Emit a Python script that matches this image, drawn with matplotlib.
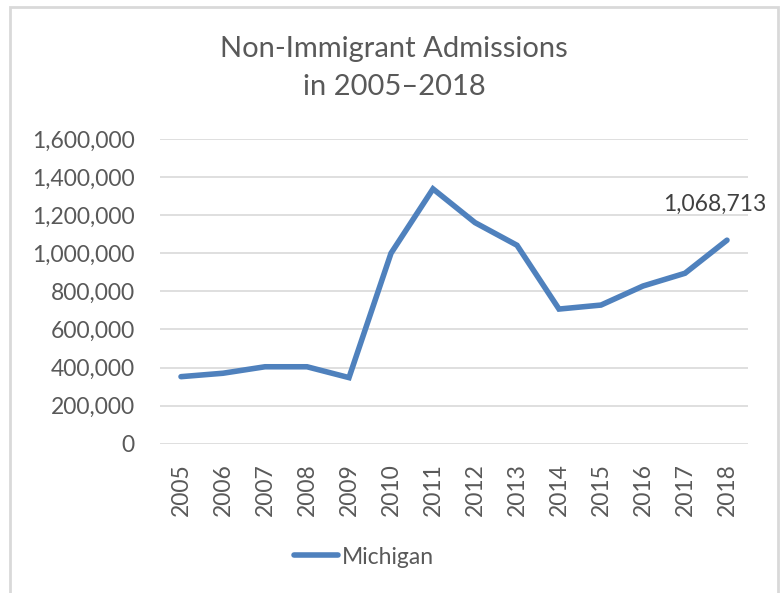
import matplotlib
matplotlib.use("Agg")
import matplotlib.pyplot as plt
from matplotlib.patches import Rectangle
from matplotlib.ticker import FuncFormatter

years = ["2005", "2006", "2007", "2008", "2009", "2010", "2011",
         "2012", "2013", "2014", "2015", "2016", "2017", "2018"]
michigan = [352000, 370000, 404000, 404000, 347000, 1000000, 1338000,
            1161000, 1042000, 707000, 728000, 828000, 895000, 1068713]
series_name = "Michigan"
title = "Non-Immigrant Admissions\nin 2005\u20132018"
label_text = "1,068,713"

plt.rcParams['font.family'] = ['Lato', 'DejaVu Sans']
txt = "#595959"
W, H = 780, 593
fig = plt.figure(figsize=(W/100, H/100), dpi=100)

# chart border
fig.patches.append(Rectangle((10/W, -0.05), (778-10)/W, 1.05 - 7/H,
                             transform=fig.transFigure, fill=False,
                             edgecolor="#d9d9d9", linewidth=2))

ax = fig.add_axes([160/W, 1-443.7/H, (748-160)/W, (443.7-139)/H])
x = list(range(len(years)))
ax.plot(x, michigan, color="#4f81bd", linewidth=4, solid_capstyle="round",
        solid_joinstyle="miter", label=series_name, zorder=3)
ax.set_xlim(-0.5, len(years)-0.5)
ax.set_ylim(0, 1600000)
ax.set_yticks(range(0, 1600001, 200000))
ax.yaxis.set_major_formatter(FuncFormatter(lambda v, p: f"{int(v):,}"))
ax.set_xticks(x)
ax.set_xticklabels(years, rotation=90)
ax.grid(axis="y", color="#d9d9d9", linewidth=1.2)
ax.set_axisbelow(True)
for s in ax.spines.values():
    s.set_visible(False)
ax.tick_params(axis="both", length=0, colors=txt, labelsize=16.5)
ax.tick_params(axis="y", pad=18)
ax.tick_params(axis="x", pad=14)

ax.annotate(label_text, (x[-1], michigan[-1]), xytext=(-9, 18),
            textcoords="offset points", ha="center", va="bottom",
            fontsize=16.5, color="#404040", annotation_clip=False)

fig.text(394/W, 1-36/H, title, ha="center", va="top", fontsize=21,
         color=txt, linespacing=1.55)

leg = fig.legend(loc="center", bbox_to_anchor=(364/W, 1-557/H), frameon=False,
                 fontsize=16.5, handlelength=1.9, handletextpad=0.15)
for t in leg.get_texts():
    t.set_color(txt)

fig.savefig("out.png", dpi=100)
